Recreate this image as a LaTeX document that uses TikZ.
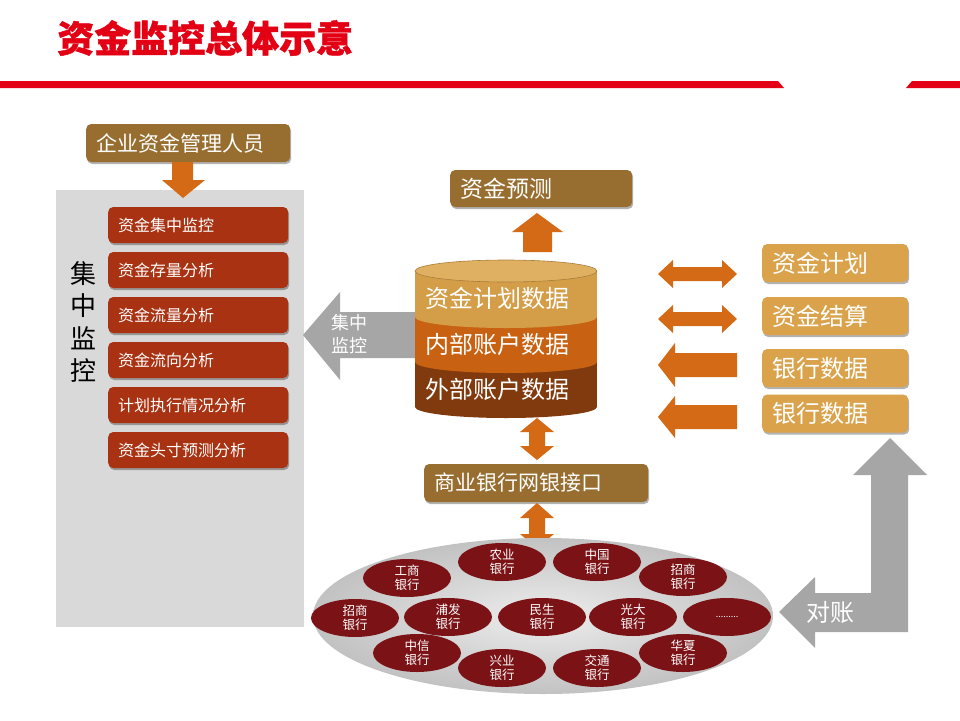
\documentclass[tikz,border=0pt]{standalone}
\usepackage{fontspec}
\setmainfont{Noto Sans CJK SC}
\newfontfamily\titlefont[BoldFeatures={FakeBold=1.2}]{Noto Sans CJK SC}
\usetikzlibrary{shapes.geometric,shadows}
\definecolor{titlered}{RGB}{228,0,20}
\definecolor{boxbrown}{RGB}{152,110,48}
\definecolor{boxred}{RGB}{168,50,18}
\definecolor{boxgold}{RGB}{218,163,75}
\definecolor{bankred}{RGB}{122,18,22}
\definecolor{arroworange}{RGB}{212,106,22}
\definecolor{arrowgray}{RGB}{166,166,166}
\definecolor{panelgray}{RGB}{217,217,217}
\definecolor{cyltan}{RGB}{212,158,72}
\definecolor{cyltantop}{RGB}{224,176,98}
\definecolor{cylorange}{RGB}{200,98,18}
\definecolor{cylbrown}{RGB}{128,58,14}
\begin{document}
\begin{tikzpicture}[x=1pt,y=-1pt,
  shadowed/.style={drop shadow={shadow xshift=1pt,shadow yshift=-2pt,opacity=0.3,fill=black}},
  basebox/.style={rectangle,rounded corners=5pt,text=white,align=left,inner xsep=10pt,inner ysep=0pt,anchor=west,shadowed},
  brownbox/.style={basebox,fill=boxbrown},
  redbox/.style={basebox,fill=boxred,text width=160pt,minimum height=36pt,font=\fontsize{16}{19}\selectfont},
  goldbox/.style={basebox,fill=boxgold,text width=126pt,minimum height=38pt,font=\fontsize{24}{28}\selectfont},
  bank/.style={ellipse,fill=bankred,text=white,minimum width=88pt,minimum height=38pt,inner sep=0pt,align=center,font=\fontsize{12.5}{14}\selectfont},
  orangearrow/.style={fill=arroworange},
  grayarrow/.style={fill=arrowgray},
  cyltext/.style={text=white,font=\fontsize{24}{28}\selectfont}
]
\useasboundingbox (0,0) rectangle (960,720);
\fill[white] (0,0) rectangle (960,720);

% title
\node[anchor=west,text=titlered,font=\titlefont\bfseries\fontsize{37}{42}\selectfont,inner sep=0pt] (title) at (57,38) {资金监控总体示意};
\fill[titlered] (0,81) -- (778,81) -- (784,88) -- (0,88) -- cycle;
\fill[titlered] (912,81) -- (960,81) -- (960,88) -- (906,88) -- cycle;

% left panel
\fill[panelgray] (56,190) rectangle (304,627);
\node[align=center,font=\fontsize{26}{32.5}\selectfont,inner sep=0pt] (jzjk) at (83,322) {集\\中\\监\\控};

\node[brownbox,text width=184pt,minimum height=38pt,font=\fontsize{21}{25}\selectfont] (mgr) at (86,143) {企业资金管理人员};
\fill[orangearrow] (183,198) -- (205,180) -- (193,180) -- (193,162) -- (172,162) -- (172,180) -- (162,180) -- cycle;

\node[redbox] (r1) at (108,225) {资金集中监控};
\node[redbox] (r2) at (108,270) {资金存量分析};
\node[redbox] (r3) at (108,315) {资金流量分析};
\node[redbox] (r4) at (108,360) {资金流向分析};
\node[redbox] (r5) at (108,405) {计划执行情况分析};
\node[redbox] (r6) at (108,450) {资金头寸预测分析};

% forecast box and up arrow
\node[brownbox,text width=162pt,minimum height=37pt,font=\fontsize{23}{27}\selectfont] (yc) at (450,188.5) {资金预测};
\fill[orangearrow] (537,213) -- (563,232) -- (552,232) -- (552,252) -- (523,252) -- (523,232) -- (512,232) -- cycle;

% gray left arrow
\fill[grayarrow] (303,335) -- (340,292) -- (340,312) -- (430,312) -- (430,358) -- (340,358) -- (340,380) -- cycle;
\node[text=white,align=center,font=\fontsize{18}{23}\selectfont,inner sep=0pt] (jzjk2) at (349,334) {集中\\监控};

% cylinder
\fill[cylbrown] (415,362) rectangle (597,407);
\fill[cylbrown] (506,407) ellipse [x radius=91, y radius=11];
\fill[cylorange] (415,317) rectangle (597,362);
\fill[cylorange] (506,362) ellipse [x radius=91, y radius=11];
\fill[cyltan] (415,271) rectangle (597,317);
\fill[cyltan] (506,317) ellipse [x radius=91, y radius=11];
\filldraw[fill=cyltantop,draw=cyltan!80!black,line width=0.6pt] (506,271) ellipse [x radius=91, y radius=11];
\node[cyltext] (c1) at (497,298) {资金计划数据};
\node[cyltext] (c2) at (497,344) {内部账户数据};
\node[cyltext] (c3) at (497,389) {外部账户数据};

% vertical double arrows
\fill[orangearrow] (537,418) -- (554,432) -- (545,432) -- (545,446) -- (554,446) -- (537,460) -- (520,446) -- (529,446) -- (529,432) -- (520,432) -- cycle;
\node[brownbox,text width=204pt,minimum height=38pt,font=\fontsize{21}{25}\selectfont] (sy) at (424,483) {商业银行网银接口};
\fill[orangearrow] (537,503) -- (554,518) -- (545,518) -- (545,534) -- (554,534) -- (537,548) -- (520,534) -- (529,534) -- (529,518) -- (520,518) -- cycle;

% right arrows
\fill[orangearrow] (658,274) -- (673,260) -- (673,267) -- (722,267) -- (722,260) -- (737,274) -- (722,288) -- (722,281) -- (673,281) -- (673,288) -- cycle;
\fill[orangearrow] (658,319) -- (673,305) -- (673,312) -- (722,312) -- (722,305) -- (737,319) -- (722,333) -- (722,326) -- (673,326) -- (673,333) -- cycle;
\fill[orangearrow] (658,365) -- (675,343) -- (675,353) -- (737,353) -- (737,377) -- (675,377) -- (675,387) -- cycle;
\fill[orangearrow] (658,417) -- (675,396) -- (675,405) -- (737,405) -- (737,429) -- (675,429) -- (675,438) -- cycle;

% right boxes
\node[goldbox] (g1) at (762,263) {资金计划};
\node[goldbox] (g2) at (762,316) {资金结算};
\node[goldbox] (g3) at (762,368) {银行数据};
\node[goldbox] (g4) at (762,413.5) {银行数据};

% gray L arrow
\fill[grayarrow] (890,438) -- (927,475) -- (908,475) -- (908,632) -- (815,632) -- (815,648) -- (779,612) -- (815,577) -- (815,593) -- (871,593) -- (871,475) -- (853,475) -- cycle;
\node[text=white,font=\fontsize{24}{28}\selectfont,inner sep=0pt] (dz) at (830,612) {对账};

% banks
\shade[inner color=white!93!black,outer color=white!76!black] (543,616) ellipse [x radius=230, y radius=78];
\node[bank] (b1) at (407,578) {工商\\银行};
\node[bank] (b2) at (502,562) {农业\\银行};
\node[bank] (b3) at (597,562) {中国\\银行};
\node[bank] (b4) at (683,577) {招商\\银行};
\node[bank] (b5) at (355,618) {招商\\银行};
\node[bank] (b6) at (448,617) {浦发\\银行};
\node[bank] (b7) at (542,617) {民生\\银行};
\node[bank] (b8) at (633,617) {光大\\银行};
\node[bank] (b9) at (727,617) {\fontsize{9}{10}\selectfont .........};
\node[bank] (b10) at (417,653) {中信\\银行};
\node[bank] (b11) at (502,668) {兴业\\银行};
\node[bank] (b12) at (597,668) {交通\\银行};
\node[bank] (b13) at (683,653) {华夏\\银行};
\end{tikzpicture}
\end{document}
